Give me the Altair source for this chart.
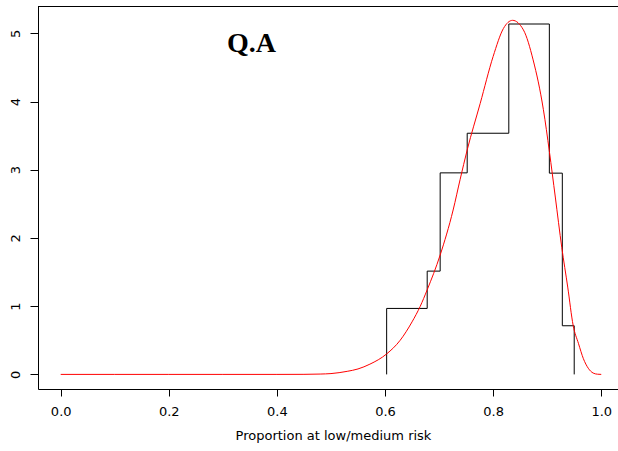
import altair as alt
import pandas as pd

# Histogram (step outline): bin edges and densities
bin_edges = [0.603, 0.678, 0.702, 0.752, 0.829, 0.904, 0.928, 0.950]
bin_heights = [0.967, 1.514, 2.954, 3.535, 5.136, 2.950, 0.713]

# Fitted density curve (red)
curve_x = [0.0, 0.1, 0.2, 0.3, 0.4, 0.45, 0.48, 0.50, 0.53, 0.55, 0.572, 0.603,
           0.628, 0.65, 0.665, 0.678, 0.702, 0.726, 0.739, 0.752, 0.776, 0.800,
           0.819, 0.836, 0.856, 0.874, 0.893, 0.904, 0.915, 0.927, 0.938, 0.948,
           0.958, 0.967, 0.976, 0.985, 0.993, 1.0]
curve_y = [0, 0, 0, 0, 0, 0.001, 0.005, 0.012, 0.045, 0.08, 0.15, 0.30,
           0.50, 0.77, 0.996, 1.24, 1.75, 2.41, 2.86, 3.29, 3.97, 4.66,
           5.07, 5.19, 5.05, 4.61, 3.88, 3.27, 2.60, 1.86, 1.28, 0.72,
           0.45, 0.23, 0.09, 0.02, 0.003, 0]

x_ticks = [0.0, 0.2, 0.4, 0.6, 0.8, 1.0]
y_ticks = [0, 1, 2, 3, 4, 5]

# Build step path for histogram outline
sx, sy = [bin_edges[0]], [0.0]
for i, h in enumerate(bin_heights):
    sx += [bin_edges[i], bin_edges[i + 1]]
    sy += [h, h]
sx.append(bin_edges[-1])
sy.append(0.0)
hist_df = pd.DataFrame({"x": sx, "y": sy, "o": list(range(len(sx)))})
curve_df = pd.DataFrame({"x": curve_x, "y": curve_y, "o": list(range(len(curve_x)))})

FONT = "DejaVu Sans"

xscale = alt.Scale(domain=[-0.042, 1.031], nice=False, zero=False)
yscale = alt.Scale(domain=[-0.214, 5.40], nice=False, zero=False)

xaxis = alt.Axis(values=x_ticks, format=".1f", title="Proportion at low/medium risk",
                 grid=False, domain=True, domainColor="black", tickSize=7, tickColor="black",
                 labelFont=FONT, labelFontSize=13, labelColor="black",
                 labelBaseline="alphabetic", labelPadding=19, labelFlush=False,
                 titleFont=FONT, titleFontSize=13, titleFontWeight="normal",
                 titleColor="black", titleBaseline="alphabetic", titleY=50.5, titleX=295)
yaxis = alt.Axis(values=y_ticks, format="d", title=None, grid=False, domain=True,
                 domainColor="black",
                 tickSize=8, tickColor="black", labelFont=FONT, labelFontSize=13,
                 labelColor="black", labelAngle=270, labelAlign="center",
                 labelBaseline="alphabetic", labelPadding=11, labelFlush=False)

hist = alt.Chart(hist_df).mark_line(color="black", strokeWidth=1).encode(
    x=alt.X("x:Q", scale=xscale, axis=xaxis),
    y=alt.Y("y:Q", scale=yscale, axis=yaxis),
    order="o:Q",
)

curve = alt.Chart(curve_df).mark_line(color="#ff0000", strokeWidth=1,
                                      interpolate="monotone").encode(
    x=alt.X("x:Q", scale=xscale),
    y=alt.Y("y:Q", scale=yscale),
    order="o:Q",
)

# top border of the plot frame (right side falls outside the picture)
top_border = alt.Chart(pd.DataFrame({"a": [0]})).mark_rule(
    color="black", strokeWidth=1
).encode(x=alt.value(0), x2=alt.value(580), y=alt.value(0.5))

label = alt.Chart(pd.DataFrame({"t": ["Q.A"]})).mark_text(
    font="Liberation Serif", fontWeight="bold", fontSize=28, color="black",
    align="center", baseline="alphabetic"
).encode(
    x=alt.X(datum=0.353, scale=xscale),
    y=alt.Y(datum=4.73, scale=yscale),
    text="t:N",
)

chart = alt.layer(hist, curve, top_border, label).properties(
    width=580, height=383,
    autosize=alt.AutoSizeParams(type="none"),
    padding={"left": 38, "top": 6, "right": 0, "bottom": 62},
    background="white",
).configure_view(stroke=None)

chart.save("out.html", embed_options={"renderer": "svg", "actions": False})
